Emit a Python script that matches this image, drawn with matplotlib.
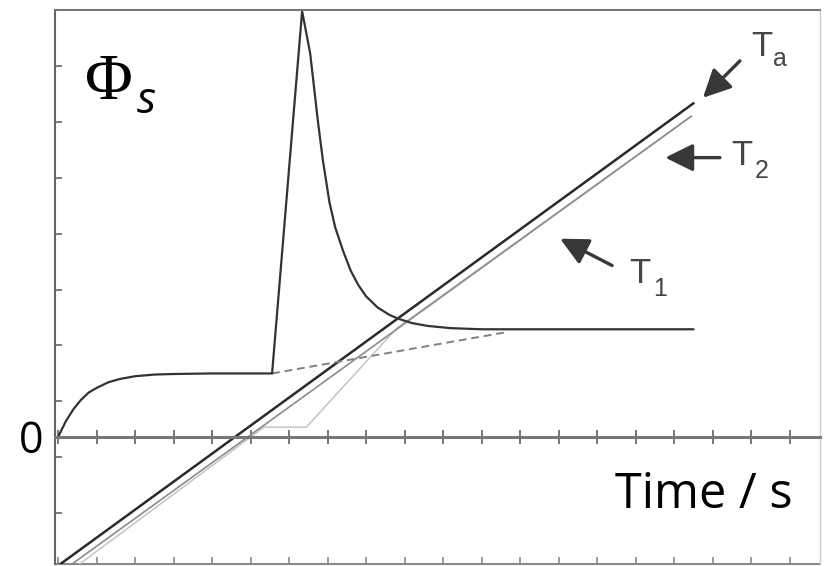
import matplotlib.pyplot as plt
import numpy as np

# Signal Phi_s (temps en s)
t_phi = [0, 0.2, 0.4, 0.6, 0.8, 1.0, 1.3, 1.6, 2.0, 2.5, 3.0, 4.0, 5.0, 5.56,
         6.34, 6.55, 6.75, 6.88, 7.05, 7.2, 7.4, 7.6, 7.8, 8.0, 8.3, 8.6, 8.83,
         9.2, 9.6, 10.2, 11.0, 12.0, 16.5]
phi_s = [0, 0.28, 0.50, 0.67, 0.80, 0.88, 0.98, 1.04, 1.09, 1.12, 1.13, 1.14, 1.14, 1.14,
         7.62, 6.86, 5.65, 4.95, 4.2, 3.75, 3.34, 2.98, 2.72, 2.52, 2.32, 2.19, 2.12,
         2.04, 1.99, 1.95, 1.93, 1.93, 1.93]

# ligne de base extrapolée (pointillés)
t_base = [5.56, 11.66]
base = [1.14, 1.88]

# températures
t_a = [0, 16.5]
T_a = [-2.30, 5.97]
t_2 = [0.2, 16.45]
T_2 = [-2.35, 5.74]
t_1 = [0.4, 5.35, 6.45, 8.8, 16.4]
T_1 = [-2.35, 0.18, 0.18, 1.95, 5.72]

fig = plt.figure(figsize=(8.25, 5.66), dpi=100)
ax = fig.add_axes([55 / 825, 2 / 566, 765 / 825, 554 / 566])

ax.plot(t_1, T_1, color="#c4c4c4", lw=1.1)
ax.plot(t_2, T_2, color="#8c8c8c", lw=1.2)
ax.plot(t_a, T_a, color="#2a2a2a", lw=1.8)
ax.plot(t_base, base, color="#808080", lw=1.4, dashes=(4, 2.5))
ax.plot(t_phi, phi_s, color="#333333", lw=1.6)

ax.set_xlim(-0.078, 19.79)
ax.set_ylim(-2.268, 7.625)

# axe du zéro avec graduations traversantes
ax.spines["bottom"].set_position(("data", 0))
ax.spines["bottom"].set_color("#777777")
ax.spines["bottom"].set_linewidth(2.2)
ax.set_xticks(np.arange(0, 20))
ax.tick_params(axis="x", direction="inout", length=10, width=1.4, color="#777777",
               labelbottom=False)

ax.spines["left"].set_color("#666666")
ax.spines["left"].set_linewidth(1.5)
ax.spines["top"].set_color("#777777")
ax.spines["top"].set_linewidth(1.5)
ax.spines["right"].set_color("#cccccc")
ax.spines["right"].set_linewidth(1.0)
ax.set_yticks(np.arange(-2, 8) + 0.64)
ax.tick_params(axis="y", direction="in", length=5, width=1.2, color="#666666",
               labelleft=False)

# axe du bas d'origine
sec = ax.secondary_xaxis(0.0)
sec.set_xticks(np.arange(0, 20))
sec.tick_params(direction="in", length=5, width=1.2, color="#888888", labelbottom=False)
sec.spines["bottom"].set_color("#888888")
sec.spines["bottom"].set_linewidth(1.5)

ax.annotate("0", xy=(0, 0), xytext=(-27, -16), textcoords="offset pixels",
            ha="center", va="baseline", fontsize=31, family="Open Sans")
ax.text(14.47, -1.27, "Time / s", fontsize=35, family="Open Sans", va="baseline")

ax.text(0.70, 6.05, "\u03a6", fontsize=47, family="Liberation Serif", va="baseline")
ax.text(2.05, 5.79, "s", fontsize=32, family="Open Sans", style="italic", va="baseline")

# étiquettes et flèches
gris = "#454545"
fleche = dict(arrowstyle="-|>,head_length=0.85,head_width=0.42", lw=2.4, color="#383838",
              shrinkA=0, shrinkB=0, mutation_scale=20)
ax.annotate("", xy=(16.75, 6.07), xytext=(17.71, 6.73), arrowprops=fleche)
ax.annotate("", xy=(15.77, 5.0), xytext=(17.19, 5.0), arrowprops=fleche)
ax.annotate("", xy=(13.04, 3.55), xytext=(14.39, 3.07), arrowprops=fleche)

ax.text(18.0, 6.82, "T", fontsize=25, family="Liberation Sans", color=gris, va="baseline")
ax.text(18.57, 6.64, "a", fontsize=18, family="Liberation Sans", color=gris, va="baseline")
ax.text(17.48, 4.86, "T", fontsize=25, family="Liberation Sans", color=gris, va="baseline")
ax.text(18.10, 4.64, "2", fontsize=18, family="Liberation Sans", color=gris, va="baseline")
ax.text(14.83, 2.75, "T", fontsize=25, family="Liberation Sans", color=gris, va="baseline")
ax.text(15.45, 2.52, "1", fontsize=18, family="Liberation Sans", color=gris, va="baseline")

plt.savefig("out.png", dpi=100)
